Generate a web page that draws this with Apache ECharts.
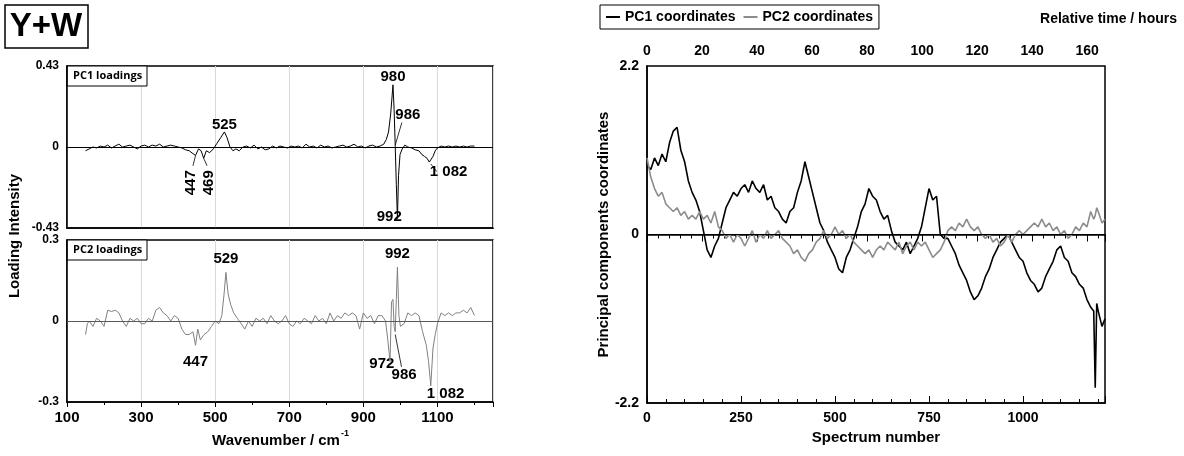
<!DOCTYPE html>
<html>
<head>
<meta charset="utf-8">
<script src="https://cdn.jsdelivr.net/npm/echarts@6/dist/echarts.min.js"></script>
<style>html,body{margin:0;padding:0;background:#fff}#main{width:1184px;height:456px}</style>
</head>
<body>
<div id="main"></div>
<script>
// PC1 loadings [wavenumber, intensity]
var pc1Load = [[150,-0.02],[160,-0.01],[170,0],[180,-0.005],[190,0.005],[200,0],[210,0.01],[220,-0.005],[230,0.005],[240,0.015],[250,0],[260,0.005],[270,0.01],[280,0],[290,-0.01],[300,0.005],[310,0.01],[320,0],[330,0.01],[340,0.005],[350,0.015],[360,0],[370,0.005],[380,0.01],[390,0.005],[400,0],[410,-0.005],[420,-0.015],[430,-0.02],[440,-0.035],[447,-0.045],[455,-0.01],[462,-0.02],[469,-0.06],[476,-0.02],[485,-0.03],[495,-0.01],[505,0.02],[515,0.05],[525,0.08],[532,0.05],[540,0.0],[548,-0.02],[556,-0.01],[565,-0.02],[575,0.0],[585,0.005],[595,-0.005],[605,0.01],[615,-0.01],[625,0],[635,-0.015],[645,-0.01],[655,0.005],[665,-0.005],[675,0.005],[685,0],[695,-0.005],[705,0.005],[715,0],[725,0.005],[735,-0.005],[745,0.015],[755,0],[765,0.005],[775,-0.005],[785,0.01],[795,0],[805,0.005],[815,-0.005],[825,0],[835,0.005],[845,0.01],[855,0],[865,0.005],[875,0.015],[885,0],[895,0.005],[905,-0.005],[915,0.005],[925,0.01],[935,0.0],[945,0.005],[955,0.015],[962,0.04],[968,0.08],[974,0.18],[980,0.33],[983,0.2],[986,0.01],[989,-0.2],[992,-0.38],[995,-0.15],[999,-0.04],[1005,-0.01],[1012,0.01],[1020,0],[1030,-0.005],[1040,-0.015],[1050,-0.02],[1058,-0.04],[1065,-0.05],[1072,-0.06],[1078,-0.08],[1082,-0.09],[1088,-0.05],[1094,-0.02],[1100,-0.005],[1110,0.005],[1120,0],[1130,0.005],[1140,0],[1150,0.005],[1160,0],[1170,0.005],[1180,0],[1190,0.005],[1200,0.005]];
// PC2 loadings [wavenumber, intensity]
var pc2Load = [[150,-0.05],[155,-0.01],[160,0.0],[170,-0.02],[180,0.01],[190,0.0],[200,-0.02],[210,0.04],[220,0.035],[230,0.04],[240,0.03],[250,0.0],[260,-0.02],[270,0.01],[280,0.0],[290,0.01],[300,-0.01],[310,-0.01],[320,0.01],[330,0.0],[340,0.04],[350,0.05],[360,0.03],[370,0.02],[380,0.0],[390,0.02],[400,0.01],[410,-0.03],[420,-0.05],[430,-0.05],[440,-0.04],[447,-0.09],[453,-0.03],[460,-0.07],[470,-0.05],[480,-0.04],[490,-0.02],[500,0.0],[510,-0.01],[518,0.02],[524,0.1],[529,0.18],[535,0.1],[542,0.06],[550,0.03],[560,0.01],[570,-0.01],[580,-0.03],[590,0.0],[600,-0.02],[610,0.01],[620,0.0],[630,0.01],[640,-0.01],[650,0.02],[660,0.0],[670,-0.01],[680,0.0],[690,0.02],[700,-0.01],[710,-0.02],[720,0.0],[730,-0.01],[740,0.01],[750,0.0],[760,-0.01],[770,0.02],[780,0.0],[790,0.01],[800,-0.01],[810,0.03],[820,0.0],[830,0.02],[840,0.01],[850,0.03],[860,0.02],[870,0.03],[880,0.02],[890,-0.03],[900,0.03],[910,0.01],[920,0.02],[930,-0.01],[940,0.02],[950,0.02],[960,0.0],[966,-0.07],[972,-0.15],[976,0.07],[980,0.08],[983,-0.02],[986,-0.04],[989,0.08],[992,0.2],[996,0.02],[1000,-0.02],[1010,-0.01],[1020,0.03],[1030,0.02],[1040,0.03],[1050,0.02],[1060,-0.04],[1070,-0.09],[1076,-0.15],[1082,-0.24],[1088,-0.1],[1094,-0.05],[1100,-0.01],[1110,0.03],[1120,0.02],[1130,0.03],[1140,0.02],[1150,0.03],[1160,0.03],[1170,0.04],[1180,0.03],[1190,0.05],[1200,0.02]];
// PC1 / PC2 coordinates vs spectrum number
var specNo = [0,10,20,30,40,50,60,70,80,90,100,110,120,130,140,150,160,170,180,190,200,210,220,230,240,250,260,270,280,290,300,310,320,330,340,350,360,370,380,390,400,410,420,430,440,450,460,470,480,490,500,510,520,530,540,550,560,570,580,590,600,610,620,630,640,650,660,670,680,690,700,710,720,730,740,750,760,770,780,790,800,810,820,830,840,850,860,870,880,890,900,910,920,930,940,950,960,970,980,990,1000,1010,1020,1030,1040,1050,1060,1070,1080,1090,1100,1110,1120,1130,1140,1150,1160,1170,1180,1188,1192,1196,1200,1210,1218];
var pc1Coord = [0.9,0.85,1.0,0.9,1.05,0.95,1.2,1.35,1.4,1.1,0.95,0.7,0.55,0.45,0.3,0.05,-0.2,-0.3,-0.15,-0.05,0.15,0.35,0.45,0.55,0.5,0.6,0.65,0.55,0.7,0.6,0.55,0.65,0.45,0.5,0.35,0.3,0.2,0.15,0.3,0.35,0.55,0.7,0.95,0.75,0.55,0.35,0.15,0.05,-0.1,-0.2,-0.3,-0.45,-0.5,-0.3,-0.2,-0.05,0.1,0.3,0.4,0.6,0.5,0.45,0.3,0.2,0.25,0.05,-0.1,-0.15,-0.2,-0.1,-0.25,-0.15,-0.05,0.1,0.35,0.6,0.45,0.5,0.0,-0.05,-0.05,-0.15,-0.25,-0.4,-0.5,-0.6,-0.75,-0.85,-0.8,-0.7,-0.55,-0.45,-0.3,-0.2,-0.1,-0.05,0.0,-0.1,-0.2,-0.3,-0.35,-0.5,-0.6,-0.65,-0.75,-0.7,-0.55,-0.45,-0.35,-0.2,-0.15,-0.3,-0.35,-0.5,-0.55,-0.65,-0.7,-0.85,-0.95,-1.0,-2.0,-0.9,-1.0,-1.2,-1.1];
var pc2Coord = [1.0,0.75,0.6,0.5,0.55,0.4,0.35,0.3,0.35,0.25,0.3,0.2,0.25,0.2,0.3,0.2,0.25,0.15,0.3,0.1,0.05,-0.05,0.0,-0.1,0.0,-0.05,-0.15,-0.05,0.05,-0.1,0.0,-0.05,0.05,-0.05,0.0,0.05,-0.05,-0.1,-0.15,-0.25,-0.2,-0.3,-0.35,-0.25,-0.2,-0.1,-0.05,0.05,-0.05,0.0,0.1,0.0,0.05,-0.05,0.0,-0.1,-0.15,-0.2,-0.25,-0.2,-0.3,-0.2,-0.15,-0.2,-0.1,-0.15,-0.2,-0.1,-0.25,-0.15,-0.1,-0.2,-0.1,-0.15,-0.1,-0.2,-0.3,-0.25,-0.2,-0.1,0.05,0.1,0.05,0.15,0.1,0.2,0.1,0.05,0.1,0.0,-0.05,0.0,-0.1,-0.05,-0.15,-0.1,0.0,-0.1,0.0,0.05,0.0,0.05,0.1,0.15,0.1,0.2,0.1,0.15,0.05,0.1,0.0,0.05,-0.05,0.0,0.1,0.05,0.15,0.1,0.3,0.2,0.25,0.35,0.3,0.15,0.2];
// peak labels: [text, labelX, labelY, leaderFromX, leaderFromY, leaderToX, leaderToY, vertical]
var peaks1 = [['980',980,0.37],['525',525,0.12],['992',970,-0.37],['986',1020,0.17,986,0.01,1004,0.13],['1 082',1130,-0.13,1082,-0.09,1098,-0.13],['447',434,-0.19,447,-0.045,440,-0.1,1],['469',483,-0.19,469,-0.06,478,-0.1,1]];
var peaks2 = [['529',529,0.23],['992',992,0.25],['447',447,-0.15],['972',950,-0.16],['986',1010,-0.2,986,-0.05,1003,-0.17],['1 082',1122,-0.27]];

var F = 'Liberation Sans, Arial, sans-serif';
var chart = echarts.init(document.getElementById('main'));
var lbl = {fontFamily:F, fontWeight:'bold', color:'#000'};
function plain(v){ return String(v); }
function loadX(gi, show){
  return {type:'value', gridIndex:gi, min:100, max:1250, interval:200,
    axisLine:{onZero:false, lineStyle:{color:'#000', width:1.5}},
    axisTick:{show:show, lineStyle:{color:'#000'}},
    minorTick:{show:show, splitNumber:2, lineStyle:{color:'#000'}},
    axisLabel:Object.assign({show:show, fontSize:15, showMaxLabel:false, formatter:plain}, lbl),
    splitLine:{show:true, lineStyle:{color:'#d9d9d9'}}};
}
function loadY(gi, lim, fmt){
  return {type:'value', gridIndex:gi, min:-lim, max:lim, interval:lim,
    axisLine:{lineStyle:{color:'#000', width:1.5}}, axisTick:{show:false},
    axisLabel:Object.assign({formatter:fmt, fontSize:12}, lbl), splitLine:{show:false}};
}
var option = {
  animation:false,
  legend:{data:['PC1 coordinates','PC2 coordinates'], left:600, top:5, padding:[5,6],
    borderColor:'#000', borderWidth:1, itemWidth:14, itemHeight:2, itemGap:8, icon:'rect',
    textStyle:{fontFamily:F, fontWeight:'bold', fontSize:14, color:'#000'}},
  grid:[
    {left:67, top:66, width:426, height:162, show:true, borderColor:'#000', borderWidth:1.5},
    {left:67, top:240, width:426, height:162, show:true, borderColor:'#000', borderWidth:1.5},
    {left:647, top:66, width:458, height:337, show:true, borderColor:'#000', borderWidth:1.5}
  ],
  xAxis:[
    loadX(0,false), loadX(1,true),
    {type:'value', gridIndex:2, min:0, max:1218, interval:250,
      axisLine:{onZero:false, lineStyle:{color:'#000', width:1.5}},
      axisTick:{inside:true, length:7, lineStyle:{color:'#000'}},
      minorTick:{show:true, splitNumber:5, length:4, lineStyle:{color:'#000'}},
      axisLabel:Object.assign({fontSize:14, showMaxLabel:false, formatter:plain}, lbl), splitLine:{show:false},
      name:'Spectrum number', nameLocation:'middle', nameGap:24,
      nameTextStyle:{fontFamily:F, fontWeight:'bold', fontSize:15, color:'#000'}},
    {type:'value', gridIndex:2, position:'top', min:0, max:166.5, interval:20,
      axisLine:{lineStyle:{color:'#000', width:1.5}},
      axisTick:{inside:true, length:7, lineStyle:{color:'#000'}},
      minorTick:{show:true, splitNumber:5, length:4, lineStyle:{color:'#000'}},
      axisLabel:Object.assign({fontSize:14, showMaxLabel:false, formatter:plain}, lbl), splitLine:{show:false}}
  ],
  yAxis:[
    loadY(0,0.43,function(v){return v===0?'0':v.toFixed(2);}),
    loadY(1,0.3,function(v){return v===0?'0':v.toFixed(1);}),
    {type:'value', gridIndex:2, min:-2.2, max:2.2, interval:2.2,
      axisLine:{lineStyle:{color:'#000', width:1.5}}, axisTick:{show:false},
      axisLabel:Object.assign({fontSize:14, formatter:function(v){return v===0?'0':v.toFixed(1);}}, lbl),
      splitLine:{show:false},
      name:'Principal components coordinates', nameLocation:'middle', nameGap:28,
      nameTextStyle:{fontFamily:F, fontWeight:'bold', fontSize:15, color:'#000'}}
  ],
  series:[
    {type:'line', xAxisIndex:0, yAxisIndex:0, data:pc1Load, symbol:'none', lineStyle:{color:'#000', width:1},
      markLine:{silent:true, symbol:'none', label:{show:false}, lineStyle:{color:'#000', width:1, type:'solid'}, data:[{yAxis:0}]}},
    {type:'line', xAxisIndex:1, yAxisIndex:1, data:pc2Load, symbol:'none', lineStyle:{color:'#808080', width:1},
      markLine:{silent:true, symbol:'none', label:{show:false}, lineStyle:{color:'#595959', width:1, type:'solid'}, data:[{yAxis:0}]}},
    {name:'PC1 coordinates', type:'line', xAxisIndex:2, yAxisIndex:2, symbol:'none', color:'#000',
      data:specNo.map(function(s,i){return [s,pc1Coord[i]];}), lineStyle:{color:'#000', width:1.6},
      markLine:{silent:true, symbol:'none', label:{show:false}, lineStyle:{color:'#000', width:1, type:'solid'}, data:[{yAxis:0}]}},
    {name:'PC2 coordinates', type:'line', xAxisIndex:2, yAxisIndex:2, symbol:'none', color:'#8c8c8c',
      data:specNo.map(function(s,i){return [s,pc2Coord[i]];}), lineStyle:{color:'#8c8c8c', width:1.6}}
  ]
};
chart.setOption(option);

var g = [
  {type:'rect', shape:{x:5, y:5, width:83, height:43}, style:{fill:'#fff', stroke:'#000', lineWidth:1.5}},
  {type:'text', x:46, y:27, style:{text:'Y+W', font:'bold 33px '+F, fill:'#000', align:'center', verticalAlign:'middle'}},
  {type:'text', x:15, y:236, rotation:Math.PI/2, style:{text:'Loading Intensity', font:'bold 15px '+F, fill:'#000', align:'center', verticalAlign:'middle'}},
  {type:'text', x:276, y:441, style:{text:'Wavenumber / cm', font:'bold 15px '+F, fill:'#000', align:'center', verticalAlign:'middle'}},
  {type:'text', x:341, y:434, style:{text:'-1', font:'bold 9px '+F, fill:'#000', align:'left', verticalAlign:'middle'}},
  {type:'text', x:1177, y:19, style:{text:'Relative time / hours', font:'bold 14px '+F, fill:'#000', align:'right', verticalAlign:'middle'}},
  {type:'rect', shape:{x:67, y:66, width:80, height:20}, style:{fill:'#fff', stroke:'#000', lineWidth:1}},
  {type:'text', x:73, y:76, style:{text:'PC1 loadings', font:'bold 11px Open Sans, '+F, fill:'#000', verticalAlign:'middle'}},
  {type:'rect', shape:{x:67, y:240, width:80, height:20}, style:{fill:'#fff', stroke:'#000', lineWidth:1}},
  {type:'text', x:73, y:250, style:{text:'PC2 loadings', font:'bold 11px Open Sans, '+F, fill:'#000', verticalAlign:'middle'}}
];
function addPeaks(list, gi){
  list.forEach(function(p){
    var pt = chart.convertToPixel({gridIndex:gi}, [p[1], p[2]]);
    if (p.length > 3) {
      var a = chart.convertToPixel({gridIndex:gi}, [p[3], p[4]]);
      var b = chart.convertToPixel({gridIndex:gi}, [p[5], p[6]]);
      g.push({type:'line', shape:{x1:a[0], y1:a[1], x2:b[0], y2:b[1]}, style:{stroke:'#000', lineWidth:0.8}});
    }
    g.push({type:'text', x:pt[0], y:pt[1], rotation:p[7] ? Math.PI/2 : 0,
      style:{text:p[0], font:'bold 15px '+F, fill:'#000', align:'center', verticalAlign:'middle'}});
  });
}
addPeaks(peaks1, 0);
addPeaks(peaks2, 1);
chart.setOption({graphic:g});
</script>
</body>
</html>
